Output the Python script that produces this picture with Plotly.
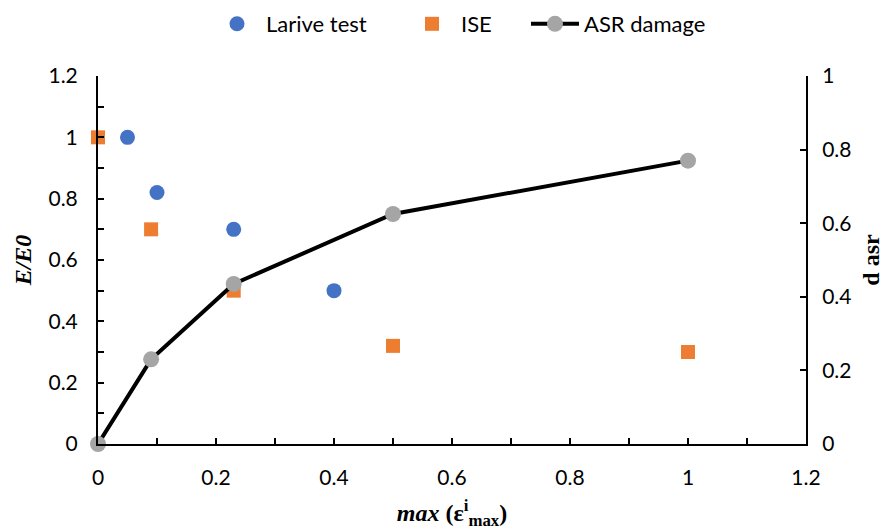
import plotly.graph_objects as go

larive_x = [0.05, 0.10, 0.23, 0.40]
larive_y = [1.0, 0.82, 0.70, 0.50]
ise_x = [0.0, 0.09, 0.23, 0.50, 1.0]
ise_y = [1.0, 0.70, 0.50, 0.32, 0.30]
asr_x = [0.0, 0.09, 0.23, 0.50, 1.0]
asr_y = [0.0, 0.23, 0.435, 0.625, 0.77]

tick_font = dict(family="Lato, 'Open Sans', sans-serif", size=21, color="#000")
title_font = dict(family="'Liberation Serif', serif", size=24, color="#000")
legend_font = dict(family="Lato, 'Open Sans', sans-serif", size=22, color="#000")

fig = go.Figure()
fig.add_trace(go.Scatter(x=larive_x, y=larive_y, mode="markers", name="Larive test", legend="legend",
                         marker=dict(symbol="circle", size=15, color="#4472C4"), cliponaxis=False))
fig.add_trace(go.Scatter(x=ise_x, y=ise_y, mode="markers", name="ISE", legend="legend2",
                         marker=dict(symbol="square", size=14, color="#ED7D31"), cliponaxis=False))
fig.add_trace(go.Scatter(x=asr_x, y=asr_y, mode="lines+markers", name="ASR damage", yaxis="y2",
                         legend="legend3",
                         line=dict(color="#000", width=4),
                         marker=dict(symbol="circle", size=16, color="#A5A5A5"), cliponaxis=False))

def leg(xpix):
    return dict(orientation="h", xref="container", x=xpix / 895, xanchor="left",
                yref="container", y=1 - 24 / 530, yanchor="middle",
                font=legend_font, itemwidth=48, bgcolor="rgba(0,0,0,0)")

fig.update_layout(
    width=895, height=530,
    margin=dict(l=98, r=89, t=76, b=86, autoexpand=False),
    plot_bgcolor="white", paper_bgcolor="white",
    showlegend=True,
    legend=leg(208),
    legend2=leg(403),
    legend3=leg(526),
    xaxis=dict(range=[0, 1.2], dtick=0.2, tick0=0, showgrid=False, zeroline=False,
               showline=True, linecolor="#000", linewidth=2,
               ticks="inside", ticklen=6, tickwidth=2, tickcolor="#000",
               minor=dict(dtick=0.1, ticks="inside", ticklen=6, tickwidth=2, tickcolor="#000", showgrid=False),
               tickfont=tick_font, ticklabelstandoff=14,
               title=dict(text="<b><i>max</i> (ε<sup>i</sup><sub>max</sub>)</b>",
                          font=title_font, standoff=16)),
    yaxis=dict(range=[0, 1.2], dtick=0.2, tick0=0, showgrid=False, zeroline=False,
               showline=True, linecolor="#000", linewidth=2,
               ticks="inside", ticklen=6, tickwidth=2, tickcolor="#000",
               minor=dict(dtick=0.1, ticks="inside", ticklen=6, tickwidth=2, tickcolor="#000", showgrid=False),
               tickfont=tick_font, ticklabelstandoff=14,
               title=dict(text="<b><i>E/E0</i></b>", font=title_font, standoff=10)),
    yaxis2=dict(range=[0, 1.0], dtick=0.2, tick0=0, overlaying="y", side="right",
                showgrid=False, zeroline=False,
                showline=True, linecolor="#000", linewidth=2,
                ticks="inside", ticklen=6, tickwidth=2, tickcolor="#000",
                tickfont=tick_font, ticklabelstandoff=10,
                title=dict(text="<b>d asr</b>", font=title_font, standoff=12)),
)

fig.write_html("out.html")
